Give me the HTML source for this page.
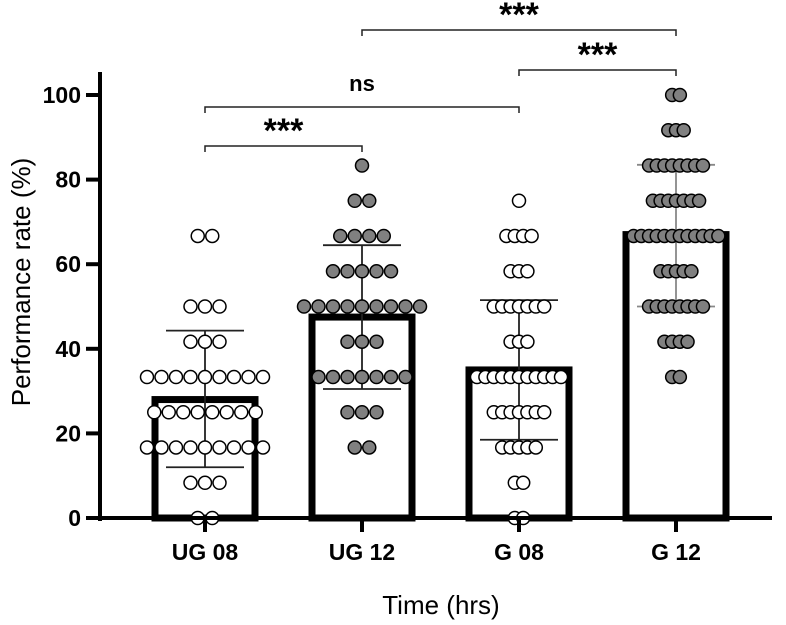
<!DOCTYPE html>
<html><head><meta charset="utf-8"><style>
body{margin:0;background:#fff}
svg{display:block;font-family:"Liberation Sans",sans-serif}
</style></head><body>
<svg id="chart" width="786" height="625"></svg>
<script>
const categories=["UG 08","UG 12","G 08","G 12"];
const means=[28,47.5,35,67];
const sdLow=[12,30.5,18.5,50];
const sdHigh=[44.3,64.5,51.5,83.5];
const levels=[0,8.33,16.67,25,33.33,41.67,50,58.33,66.67,75,83.33,91.67,100];
const countsUG08=[2,3,9,8,9,3,3,0,2,0,0,0,0];
const countsUG12=[0,0,2,3,7,3,9,5,4,2,1,0,0];
const countsG08=[2,2,5,7,11,3,7,3,4,1,0,0,0];
const countsG12=[0,0,0,0,2,4,8,5,12,7,8,3,2];
const yTicks=[0,20,40,60,80,100];
const sigLabels=["***","ns","***","***"];
const sigPairs=[[0,1],[0,2],[2,3],[1,3]];
const sigLevels=[146,107,70,30];

const NS="http://www.w3.org/2000/svg";
const svg=document.getElementById('chart');
const y=v=>518-v*4.23;
const x=i=>205+i*157;
function mk(t,a){const e=document.createElementNS(NS,t);for(const k in a)e.setAttribute(k,a[k]);svg.appendChild(e);return e;}

const allCounts=[countsUG08,countsUG12,countsG08,countsG12];
const fills=["#fff","#808080","#fff","#808080"];
const spacing=[14.5,14.5,8.4,7.7];
categories.forEach((c,i)=>{
  const b=mk('rect',{x:x(i)-50,y:y(means[i]),width:100,height:518-y(means[i]),fill:'#fff',stroke:'#000','stroke-width':7});
  
  
});
categories.forEach((c,i)=>{
  const col=i==3?'#888':'#222';
  const g=mk('path',{d:`M${x(i)},${y(sdLow[i])}V${y(sdHigh[i])}M${x(i)-39},${y(sdLow[i])}H${x(i)+39}M${x(i)-39},${y(sdHigh[i])}H${x(i)+39}`,stroke:col,'stroke-width':1.8,fill:'none'});
  
  
});
allCounts.forEach((cnt,i)=>{
  cnt.forEach((n,li)=>{
    for(let k=0;k<n;k++){
      const cx=x(i)+(k-(n-1)/2)*spacing[i];
      const d=mk('circle',{cx:cx,cy:y(levels[li]),r:6.5,fill:fills[i],stroke:'#000','stroke-width':1.5});
      
      
    }
  });
});
const ya=mk('path',{d:'M100,72V521',stroke:'#000','stroke-width':4});


const xa=mk('path',{d:'M98,518H772',stroke:'#000','stroke-width':4});


yTicks.forEach(t=>{
  const tk=mk('path',{d:`M86,${y(t)}H100`,stroke:'#000','stroke-width':4});
  
  
  const l=mk('text',{x:81,y:y(t)+8,'text-anchor':'end','font-size':23,'font-weight':'bold'});
  l.textContent=t;
  
  
});
categories.forEach((c,i)=>{
  const tk=mk('path',{d:`M${x(i)},518V532`,stroke:'#000','stroke-width':4});
  
  
  const l=mk('text',{x:x(i),y:560,'text-anchor':'middle','font-size':23,'font-weight':'bold'});
  l.textContent=c;
  
  
});
const xt=mk('text',{x:441,y:614,'text-anchor':'middle','font-size':26});
xt.textContent='Time (hrs)';


const yt=mk('text',{x:0,y:0,'text-anchor':'middle','font-size':26,transform:'translate(30,282) rotate(-90)'});
yt.textContent='Performance rate (%)';


sigPairs.forEach((p,j)=>{
  const ly=sigLevels[j];
  const br=mk('path',{d:`M${x(p[0])},${ly+6}V${ly}H${x(p[1])}V${ly+6}`,stroke:'#222','stroke-width':1.5,fill:'none'});
  
  
  const isNs=sigLabels[j]=='ns';
  const t=mk('text',{x:(x(p[0])+x(p[1]))/2,y:isNs?ly-16:ly-4,'text-anchor':'middle','font-size':isNs?22:34,'font-weight':'bold'});
  t.textContent=sigLabels[j];
  
  
});
</script>
</body></html>
